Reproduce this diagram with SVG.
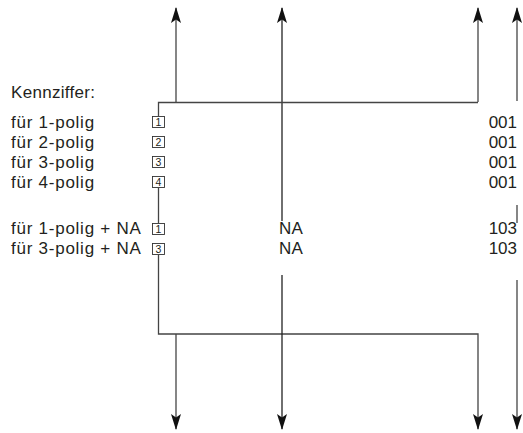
<svg xmlns="http://www.w3.org/2000/svg" width="523" height="433" viewBox="0 0 523 433">
<style>
text{font-family:"Liberation Sans",Arial,sans-serif;font-size:17px;fill:#231f20}
.l{letter-spacing:0.75px}
.k{letter-spacing:0.3px}
.r{text-anchor:end}
.n{font-size:10.5px;text-anchor:middle;letter-spacing:0}
.ln{fill:none;stroke:#444;stroke-width:1.3}
.ax{fill:none;stroke:#222;stroke-width:1.3}
.bx{fill:#fff;stroke:#333;stroke-width:0.9}
</style>
<defs>
<marker id="ah" viewBox="0 0 16 12" refX="15" refY="6" markerWidth="16" markerHeight="12" markerUnits="userSpaceOnUse" orient="auto">
<path d="M16 6 L0 1 L3.5 6 L0 11 Z" fill="#111"/>
</marker>
</defs>
<g id="connectors">
<path class="ln" d="M176 102 V8" marker-end="url(#ah)"/>
<path class="ln" d="M478 102 V8" marker-end="url(#ah)"/>
<path class="ln" d="M517 101 V8" marker-end="url(#ah)"/>
<path class="ax" d="M282 221 V8" marker-end="url(#ah)"/>
<path class="ln" d="M158.5 116 V102.5 H478"/>
<path class="ln" d="M158.5 188 V223"/>
<path class="ln" d="M517 205 V223"/>
<path class="ln" d="M158.5 255 V334 H478 V429" marker-end="url(#ah)"/>
<path class="ln" d="M176 334 V429" marker-end="url(#ah)"/>
<path class="ax" d="M282 275 V429" marker-end="url(#ah)"/>
<path class="ln" d="M517 280 V429" marker-end="url(#ah)"/>
</g>
<g id="legend">
<text class="k" x="11" y="98">Kennziffer:</text>
</g>
<g id="row1">
<text class="l" x="11" y="128">für 1-polig</text>
<rect class="bx" x="152.5" y="116.5" width="12" height="11"/><text class="n" x="158.5" y="126">1</text>
<text class="r" x="517" y="128">001</text>
</g>
<g id="row2">
<text class="l" x="11" y="148">für 2-polig</text>
<rect class="bx" x="152.5" y="136.5" width="12" height="11"/><text class="n" x="158.5" y="146">2</text>
<text class="r" x="517" y="148">001</text>
</g>
<g id="row3">
<text class="l" x="11" y="168">für 3-polig</text>
<rect class="bx" x="152.5" y="156.5" width="12" height="11"/><text class="n" x="158.5" y="166">3</text>
<text class="r" x="517" y="168">001</text>
</g>
<g id="row4">
<text class="l" x="11" y="188">für 4-polig</text>
<rect class="bx" x="152.5" y="176.5" width="12" height="11"/><text class="n" x="158.5" y="186">4</text>
<text class="r" x="517" y="188">001</text>
</g>
<g id="row5">
<text class="l" x="11" y="234">für 1-polig + NA</text>
<rect class="bx" x="152.5" y="223.5" width="12" height="11"/><text class="n" x="158.5" y="233">1</text>
<text class="k" x="279" y="234">NA</text>
<text class="r" x="517" y="234">103</text>
</g>
<g id="row6">
<text class="l" x="11" y="254">für 3-polig + NA</text>
<rect class="bx" x="152.5" y="243.5" width="12" height="11"/><text class="n" x="158.5" y="253">3</text>
<text class="k" x="279" y="254">NA</text>
<text class="r" x="517" y="254">103</text>
</g>
</svg>
